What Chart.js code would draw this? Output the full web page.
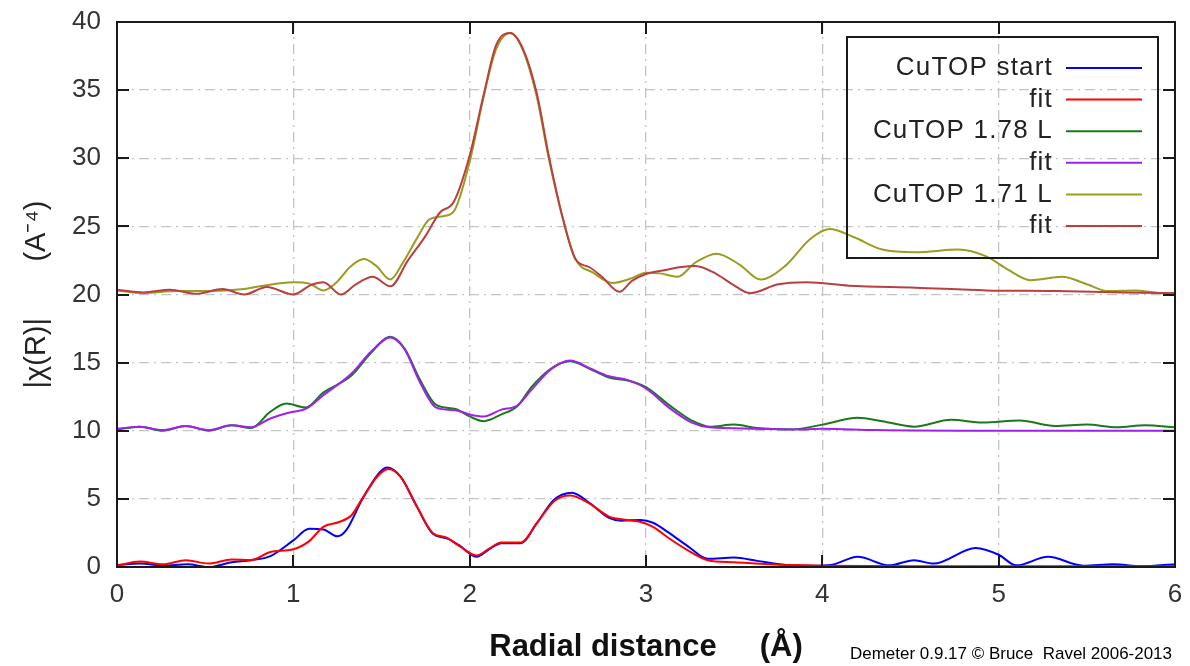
<!DOCTYPE html>
<html>
<head>
<meta charset="utf-8">
<title>CuTOP |chi(R)|</title>
<script src="https://cdn.jsdelivr.net/npm/chart.js@4.4.1/dist/chart.umd.min.js"></script>
<style>
    html, body { margin: 0; padding: 0; background: #ffffff; }
</style>
</head>
<body>
<canvas id="chart" width="1190" height="666"></canvas>
<script>
// Curve samples (R in Angstrom, |chi(R)| offset per pair)
const startR = [0, 0.13, 0.26, 0.4, 0.52, 0.65, 0.76, 0.87, 1.0, 1.09, 1.17, 1.25, 1.3, 1.39, 1.48, 1.53, 1.61, 1.7, 1.79, 1.87, 1.94, 2.04, 2.11, 2.18, 2.29, 2.38, 2.48, 2.58, 2.68, 2.79, 2.86, 2.97, 3.04, 3.12, 3.24, 3.35, 3.5, 3.63, 3.79, 3.95, 4.05, 4.2, 4.38, 4.52, 4.63, 4.87, 5.0, 5.1, 5.28, 5.48, 5.65, 5.81, 6.0];
const startChi = [0.15, 0.25, 0.1, 0.2, 0.0, 0.35, 0.5, 0.8, 1.95, 2.8, 2.75, 2.25, 2.7, 4.95, 6.8, 7.3, 6.6, 4.45, 2.45, 2.1, 1.6, 0.75, 1.3, 1.75, 1.75, 3.2, 4.95, 5.45, 4.7, 3.6, 3.4, 3.45, 3.25, 2.6, 1.5, 0.6, 0.7, 0.45, 0.15, 0.1, 0.15, 0.75, 0.12, 0.5, 0.25, 1.4, 0.9, 0.12, 0.75, 0.1, 0.2, 0.05, 0.2];

const startFitR = [0, 0.13, 0.26, 0.39, 0.52, 0.65, 0.76, 0.87, 1.0, 1.09, 1.17, 1.26, 1.33, 1.39, 1.48, 1.54, 1.61, 1.7, 1.79, 1.87, 1.94, 2.04, 2.11, 2.18, 2.29, 2.38, 2.48, 2.57, 2.68, 2.79, 2.86, 2.97, 3.04, 3.12, 3.24, 3.35, 3.5, 3.7, 4.0, 4.5, 5.0, 5.5, 6.0];
const startFitChi = [0.1, 0.4, 0.2, 0.5, 0.25, 0.55, 0.5, 1.1, 1.3, 1.9, 2.95, 3.3, 3.8, 5.0, 6.7, 7.2, 6.6, 4.45, 2.5, 2.15, 1.55, 0.85, 1.35, 1.8, 1.8, 3.2, 4.85, 5.25, 4.65, 3.7, 3.5, 3.3, 2.95, 2.2, 1.2, 0.5, 0.35, 0.2, 0.1, 0.05, 0.05, 0.05, 0.05];

const l178R = [0, 0.13, 0.26, 0.39, 0.52, 0.65, 0.76, 0.87, 0.96, 1.07, 1.17, 1.33, 1.44, 1.55, 1.63, 1.72, 1.81, 1.92, 2.0, 2.08, 2.18, 2.27, 2.35, 2.46, 2.57, 2.68, 2.79, 2.89, 3.0, 3.13, 3.26, 3.36, 3.5, 3.63, 3.83, 4.0, 4.2, 4.34, 4.52, 4.73, 4.91, 5.12, 5.32, 5.5, 5.67, 5.83, 6.0];
const l178Chi = [10.1, 10.3, 10.0, 10.35, 10.0, 10.4, 10.2, 11.4, 12.0, 11.7, 12.8, 14.05, 15.7, 16.9, 16.05, 13.7, 11.9, 11.6, 11.05, 10.7, 11.2, 11.8, 13.2, 14.55, 15.1, 14.55, 13.9, 13.7, 13.2, 11.9, 10.75, 10.3, 10.45, 10.2, 10.1, 10.45, 10.95, 10.7, 10.3, 10.8, 10.6, 10.75, 10.35, 10.45, 10.25, 10.4, 10.25];

const l178FitR = [0, 0.13, 0.26, 0.39, 0.52, 0.65, 0.76, 0.87, 1.0, 1.07, 1.17, 1.33, 1.44, 1.55, 1.63, 1.72, 1.81, 1.92, 2.0, 2.08, 2.18, 2.27, 2.35, 2.46, 2.57, 2.68, 2.79, 2.89, 3.0, 3.13, 3.26, 3.36, 3.6, 3.9, 4.0, 4.3, 5.0, 6.0];
const l178FitChi = [10.15, 10.3, 10.05, 10.35, 10.05, 10.4, 10.25, 10.9, 11.4, 11.6, 12.6, 14.2, 15.8, 16.85, 16.0, 13.5, 11.7, 11.5, 11.2, 11.05, 11.55, 11.85, 13.0, 14.5, 15.15, 14.6, 14.0, 13.75, 13.1, 11.7, 10.6, 10.25, 10.15, 10.1, 10.15, 10.05, 10.0, 10.0];

const l171R = [0, 0.15, 0.34, 0.53, 0.72, 0.81, 1.0, 1.09, 1.17, 1.25, 1.32, 1.4, 1.47, 1.55, 1.62, 1.7, 1.77, 1.85, 1.91, 2.0, 2.08, 2.15, 2.23, 2.3, 2.38, 2.45, 2.53, 2.6, 2.7, 2.81, 2.92, 3.0, 3.08, 3.18, 3.28, 3.4, 3.53, 3.65, 3.79, 3.93, 4.04, 4.18, 4.34, 4.53, 4.77, 4.93, 5.05, 5.18, 5.36, 5.5, 5.62, 5.77, 5.93, 6.0];
const l171Chi = [20.3, 20.1, 20.25, 20.25, 20.4, 20.6, 20.9, 20.8, 20.3, 20.95, 22.0, 22.6, 22.1, 21.1, 22.3, 24.1, 25.5, 25.75, 26.1, 29.75, 34.55, 38.0, 39.2, 38.0, 34.55, 29.9, 25.5, 22.6, 21.6, 20.85, 21.2, 21.6, 21.55, 21.3, 22.35, 23.0, 22.2, 21.1, 22.1, 24.05, 24.8, 24.2, 23.3, 23.1, 23.3, 22.8, 21.85, 21.05, 21.3, 20.75, 20.25, 20.3, 20.1, 20.1];

const l171FitR = [0, 0.15, 0.3, 0.45, 0.6, 0.72, 0.85, 1.0, 1.1, 1.17, 1.27, 1.35, 1.45, 1.55, 1.65, 1.75, 1.83, 1.91, 2.0, 2.08, 2.15, 2.23, 2.3, 2.38, 2.45, 2.53, 2.6, 2.68, 2.75, 2.85, 2.92, 3.0, 3.11, 3.19, 3.28, 3.4, 3.49, 3.59, 3.75, 3.91, 4.15, 4.53, 4.93, 5.32, 5.71, 6.0];
const l171FitChi = [20.35, 20.15, 20.35, 20.05, 20.4, 20.0, 20.55, 20.0, 20.7, 20.9, 20.0, 20.7, 21.3, 20.6, 22.5, 24.3, 26.0, 26.8, 30.2, 34.7, 38.3, 39.2, 38.1, 34.8, 30.1, 25.5, 22.6, 22.0, 21.3, 20.2, 21.0, 21.5, 21.8, 22.0, 22.1, 21.5, 20.75, 20.1, 20.75, 20.9, 20.65, 20.5, 20.3, 20.25, 20.15, 20.1];

const seriesLabels = ['CuTOP start', 'fit', 'CuTOP 1.78 L', 'fit', 'CuTOP 1.71 L', 'fit'];
const xTicks = [0, 1, 2, 3, 4, 5, 6];
const yTicks = [0, 5, 10, 15, 20, 25, 30, 35, 40];

const colors = ['#0000ff', '#ff0000', '#1a7a1a', '#a020f0', '#9c9c22', '#b84040'];
const FONT = '"Liberation Sans", Arial, Helvetica, sans-serif';

function points(xs, ys) {
    return xs.map((r, i) => ({ x: r, y: ys[i] }));
}

const allSeries = [
    points(startR, startChi),
    points(startFitR, startFitChi),
    points(l178R, l178Chi),
    points(l178FitR, l178FitChi),
    points(l171R, l171Chi),
    points(l171FitR, l171FitChi)
];

// gnuplot-ish frame, inward ticks, key box and credit line
const gnuplotFrame = {
    id: 'gnuplotFrame',
    afterDraw(chart) {
        const { ctx, chartArea: a, scales } = chart;
        const x = scales.x, y = scales.y;
        const tick = 12;
        ctx.save();
        ctx.strokeStyle = '#1a1a1a';
        ctx.lineWidth = 2;
        ctx.strokeRect(a.left, a.top, a.right - a.left, a.bottom - a.top);
        ctx.beginPath();
        xTicks.forEach(v => {
            const px = Math.round(x.getPixelForValue(v));
            ctx.moveTo(px, a.bottom); ctx.lineTo(px, a.bottom - tick);
            ctx.moveTo(px, a.top); ctx.lineTo(px, a.top + tick);
        });
        yTicks.forEach(v => {
            const py = Math.round(y.getPixelForValue(v));
            ctx.moveTo(a.left, py); ctx.lineTo(a.left + tick, py);
            ctx.moveTo(a.right, py); ctx.lineTo(a.right - tick, py);
        });
        ctx.stroke();

        // key
        const box = { left: 847, top: 37, right: 1158, bottom: 258 };
        ctx.strokeRect(box.left, box.top, box.right - box.left, box.bottom - box.top);
        ctx.font = '26px ' + FONT;
        ctx.letterSpacing = '1.2px';
        ctx.fillStyle = '#222222';
        ctx.textAlign = 'right';
        ctx.textBaseline = 'middle';
        chart.data.datasets.forEach((ds, i) => {
            const ly = 68 + i * 31.6;
            ctx.fillText(ds.label, 1053, ly);
            ctx.save();
            ctx.strokeStyle = ds.borderColor;
            ctx.lineWidth = 2;
            ctx.beginPath();
            ctx.moveTo(1066, ly);
            ctx.lineTo(1142, ly);
            ctx.stroke();
            ctx.restore();
        });
        ctx.letterSpacing = '0px';

        // credit
        ctx.font = '17px ' + FONT;
        ctx.fillStyle = '#000000';
        ctx.textAlign = 'right';
        ctx.fillText('Demeter 0.9.17 \u00a9 Bruce  Ravel 2006-2013', 1172, 654, 322);
        ctx.restore();
    }
};

const gridStyle = {
    color: '#c4c4c4',
    lineWidth: 1.3,
    drawTicks: false
};

const ctx = document.getElementById('chart').getContext('2d');
const chart = new Chart(ctx, {
    type: 'line',
    data: {
        datasets: allSeries.map((pts, i) => ({
            label: seriesLabels[i],
            data: pts,
            borderColor: colors[i],
            backgroundColor: colors[i],
            borderWidth: 2,
            pointRadius: 0,
            cubicInterpolationMode: 'monotone',
            fill: false,
            order: allSeries.length - i
        }))
    },
    options: {
        responsive: false,
        animation: false,
        layout: { padding: { top: 22, right: 15, left: 0, bottom: 0 } },
        plugins: {
            legend: { display: false },
            tooltip: { enabled: false }
        },
        scales: {
            x: {
                type: 'linear',
                min: 0,
                max: 6,
                afterFit(scale) {
                    scale.height = 99;
                    scale.paddingLeft = 0;
                    scale.paddingRight = 0;
                },
                afterBuildTicks(scale) { scale.ticks = xTicks.map(v => ({ value: v })); },
                ticks: {
                    color: '#333333',
                    font: { family: FONT, size: 26 },
                    padding: 12,
                    maxRotation: 0
                },
                grid: { ...gridStyle, borderDash: [10, 5, 2, 5] },
                border: { display: false, dash: [10, 5, 2, 5] },
                title: {
                    display: true,
                    text: 'Radial distance     (\u00c5)',
                    color: '#111111',
                    font: { family: FONT, size: 31, weight: 'bold' },
                    padding: { top: 0, bottom: 0 }
                }
            },
            y: {
                min: 0,
                max: 40,
                afterFit(scale) {
                    scale.width = 117;
                    scale.paddingTop = 0;
                    scale.paddingBottom = 0;
                },
                afterBuildTicks(scale) { scale.ticks = yTicks.map(v => ({ value: v })); },
                ticks: {
                    color: '#333333',
                    font: { family: FONT, size: 26 },
                    padding: 16
                },
                grid: { ...gridStyle },
                border: { display: false, dash: [10, 5, 2, 5] },
                title: {
                    display: true,
                    text: '|\u03c7(R)|       (A\u207b\u2074)',
                    color: '#222222',
                    font: { family: FONT, size: 29 },
                    padding: { top: 20, bottom: 0 }
                }
            }
        }
    },
    plugins: [gnuplotFrame]
});
</script>
</body>
</html>
